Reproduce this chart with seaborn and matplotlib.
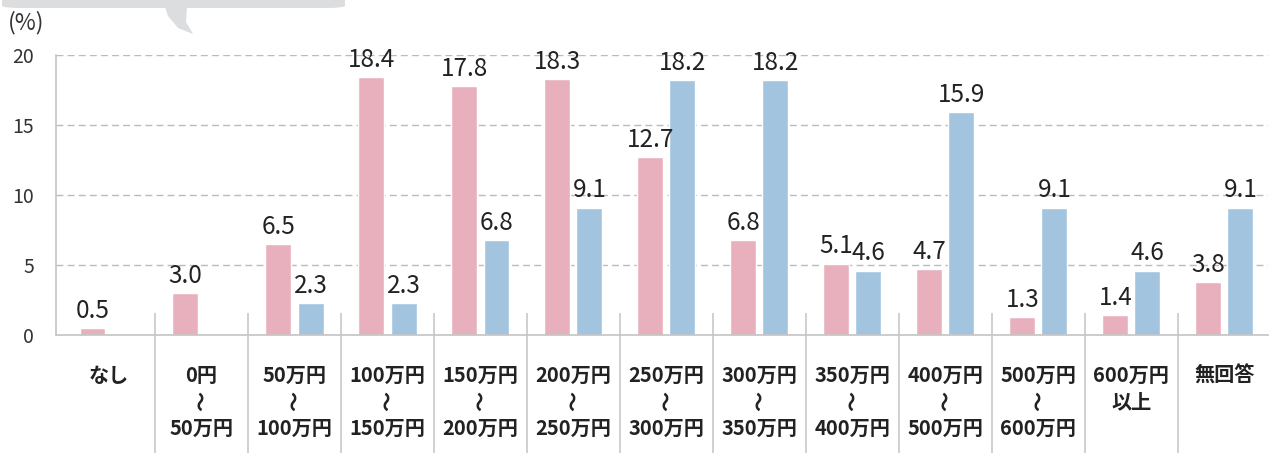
import matplotlib
matplotlib.use("Agg")
import matplotlib.pyplot as plt
from matplotlib.patches import FancyBboxPatch, Polygon
import numpy as np
import pandas as pd
import seaborn as sns

# data
categories = ["なし", "0円～50万円", "50万円～100万円", "100万円～150万円",
              "150万円～200万円", "200万円～250万円", "250万円～300万円",
              "300万円～350万円", "350万円～400万円", "400万円～500万円",
              "500万円～600万円", "600万円以上", "無回答"]
pink_vals = [0.5, 3.0, 6.5, 18.4, 17.8, 18.3, 12.7, 6.8, 5.1, 4.7, 1.3, 1.4, 3.8]
blue_vals = [np.nan, np.nan, 2.3, 2.3, 6.8, 9.1, 18.2, 18.2, 4.6, 15.9, 9.1, 4.6, 9.1]
series = ["series_1", "series_2"]
yticks = [0, 5, 10, 15, 20]

PINK = "#e8b0bc"
BLUE = "#a3c4de"

df = pd.DataFrame({
    "cat": categories * 2,
    "val": pink_vals + blue_vals,
    "series": [series[0]] * len(categories) + [series[1]] * len(categories),
})

sns.set_style("white")
plt.rcParams["font.family"] = ["Noto Sans CJK JP", "DejaVu Sans"]

fig = plt.figure(figsize=(12.72, 4.53), dpi=100)
ax = fig.add_axes([56 / 1272, 1 - 335 / 453, 1212 / 1272, 280 / 453])

sns.barplot(data=df, x="cat", y="val", hue="series", hue_order=series,
            palette=[PINK, BLUE], width=0.69, gap=0.19, legend=False,
            saturation=1, ax=ax)

for c in ax.containers:
    ax.bar_label(c, fmt="%.1f", padding=3, fontsize=17.5, color="#222222")

ax.set_ylim(0, 20)
ax.set_xlim(-0.565, 12.47)
ax.set_yticks(yticks)
ax.set_yticklabels([str(t) for t in yticks], fontsize=14, color="#333333")
ax.set_xticks(range(len(categories)))
ax.set_xticklabels([])
ax.tick_params(axis="y", length=0, pad=16)
ax.tick_params(axis="x", length=0)
ax.set_xlabel("")
ax.set_ylabel("")

# category labels: top line, vertical wave, bottom line
tr = ax.get_xaxis_transform()
def ypx(y):
    return -(y - 335) / 280

lab_kw = dict(transform=tr, ha="center", va="center", fontsize=14.5,
              fontweight="bold", color="#222222")
for i, cat in enumerate(categories):
    if "～" in cat:
        top, bottom = cat.split("～")
        ax.text(i, ypx(375), top, **lab_kw)
        ax.text(i, ypx(401), "～", rotation=90, **lab_kw)
        ax.text(i, ypx(428), bottom, **lab_kw)
    elif cat.endswith("以上"):
        ax.text(i, ypx(375), cat[:-2], **lab_kw)
        ax.text(i, ypx(402), cat[-2:], **lab_kw)
    else:
        ax.text(i, ypx(375), cat, **lab_kw)

for t in yticks[1:]:
    ax.axhline(t, color="#bbbbbb", lw=1, ls=(0, (5, 3)), zorder=0)

for s in ["top", "right"]:
    ax.spines[s].set_visible(False)
for s in ["left", "bottom"]:
    ax.spines[s].set_color("#c4c4c4")
    ax.spines[s].set_linewidth(1.2)

# separators between categories
ax.vlines(np.arange(len(categories) - 1) + 0.5, 1.6, -8.5, color="#c8c8c8",
          lw=1.2, clip_on=False)

fig.text(8 / 1272, 1 - 23 / 453, "(%)", fontsize=16.5, color="#333333", va="center")

# speech bubble edge at top
bubble = FancyBboxPatch((2 / 1272, 1 - 8 / 453), 343 / 1272, 40 / 453,
                        boxstyle="round,pad=0,rounding_size=0.015",
                        transform=fig.transFigure, facecolor="#dcdddf",
                        edgecolor="none", mutation_aspect=453 / 1272)
fig.patches.append(bubble)
tail = Polygon([(165 / 1272, 1 - 7 / 453), (187 / 1272, 1 - 7 / 453),
                (186 / 1272, 1 - 22 / 453), (193 / 1272, 1 - 34 / 453),
                (178 / 1272, 1 - 28 / 453), (168 / 1272, 1 - 16 / 453)],
               closed=True, transform=fig.transFigure, facecolor="#dcdddf",
               edgecolor="none")
fig.patches.append(tail)

fig.savefig("out.png", dpi=100)
